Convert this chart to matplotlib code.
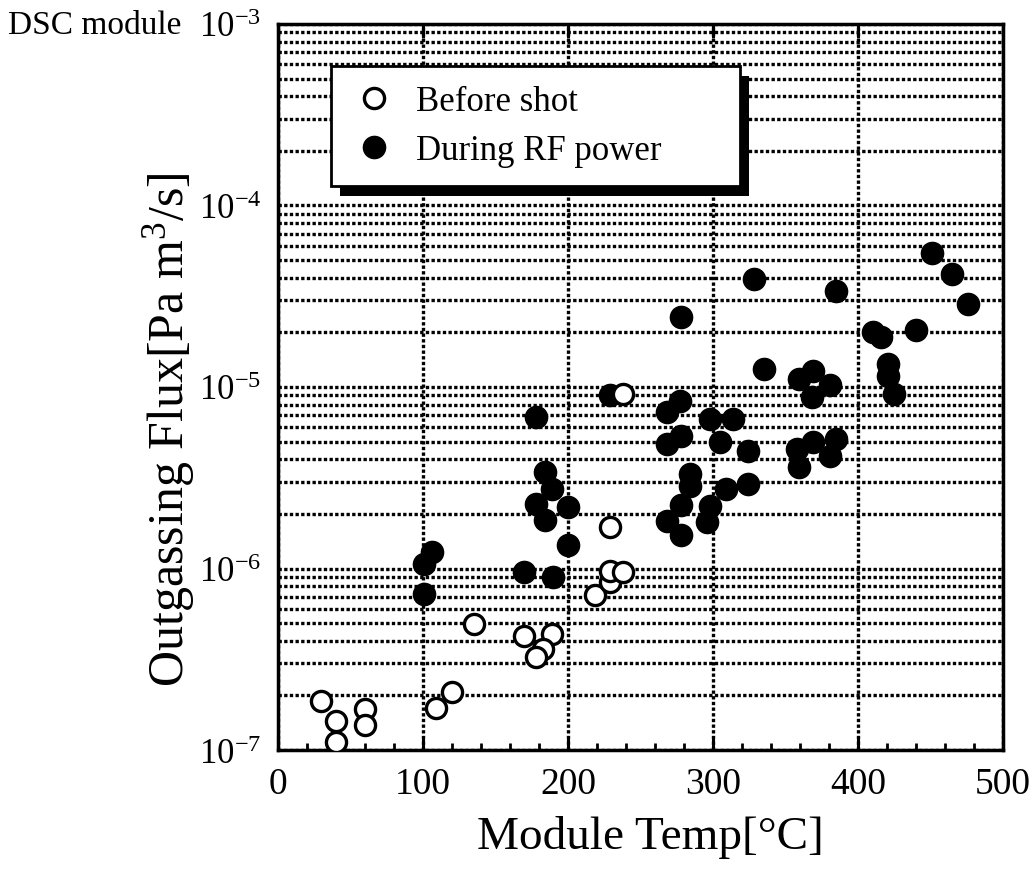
import matplotlib
matplotlib.use('Agg')
import matplotlib.pyplot as plt
from matplotlib.patches import Rectangle
from matplotlib.ticker import MultipleLocator, LogLocator, NullFormatter

plt.rcParams['font.family'] = ['Liberation Serif', 'DejaVu Serif']
plt.rcParams['mathtext.fontset'] = 'custom'
plt.rcParams['mathtext.rm'] = 'Liberation Serif'
plt.rcParams['mathtext.it'] = 'Liberation Serif:italic'

# Before shot (open circles): module temp [C], outgassing flux [Pa m3/s]
antes_temp = [30, 40, 40, 60, 60, 109, 120, 135, 170, 189, 183, 178,
              219, 229, 229, 238, 229, 238]
antes_flujo = [1.87e-7, 1.45e-7, 1.11e-7, 1.68e-7, 1.37e-7, 1.70e-7, 2.08e-7,
               4.94e-7, 4.23e-7, 4.35e-7, 3.60e-7, 3.24e-7, 7.14e-7, 8.43e-7,
               9.64e-7, 9.58e-7, 1.70e-6, 9.14e-6]

# During RF power (filled circles)
rf_temp = [101, 106, 101, 178, 184, 189, 178, 184, 200, 200, 170, 190,
           229, 277, 268, 298, 314, 278, 268, 305, 324, 284, 284, 309,
           324, 278, 268, 278, 298, 296, 278, 328, 335, 359, 369, 381,
           368, 358, 369, 385, 381, 359, 385, 410, 416, 440, 421, 421,
           425, 451, 465, 476]
rf_flujo = [1.06e-6, 1.23e-6, 7.24e-7, 6.81e-6, 3.42e-6, 2.74e-6, 2.27e-6,
            1.86e-6, 2.17e-6, 1.34e-6, 9.53e-7, 8.94e-7, 9.03e-6, 8.41e-6,
            7.26e-6, 6.67e-6, 6.67e-6, 5.39e-6, 4.85e-6, 4.96e-6, 4.46e-6,
            3.32e-6, 2.86e-6, 2.74e-6, 2.92e-6, 2.24e-6, 1.83e-6, 1.52e-6,
            2.22e-6, 1.80e-6, 2.42e-5, 3.94e-5, 1.26e-5, 1.11e-5, 1.23e-5,
            1.02e-5, 8.77e-6, 4.55e-6, 4.95e-6, 5.17e-6, 4.18e-6, 3.61e-6,
            3.37e-5, 2.00e-5, 1.88e-5, 2.06e-5, 1.34e-5, 1.15e-5, 9.14e-6,
            5.47e-5, 4.20e-5, 2.87e-5]

x_ticks = [0, 100, 200, 300, 400, 500]
y_ticks = [1e-7, 1e-6, 1e-5, 1e-4, 1e-3]
y_labels = [r'$\mathregular{10^{-7}}$', r'$\mathregular{10^{-6}}$',
            r'$\mathregular{10^{-5}}$', r'$\mathregular{10^{-4}}$',
            r'$\mathregular{10^{-3}}$']

fig = plt.figure(figsize=(10.33, 8.79), dpi=100)
ax = fig.add_axes([0.269, 0.1456, 0.702, 0.826])

ax.plot(rf_temp, rf_flujo, 'o', ms=16, mfc='black', mec='black',
        ls='none', label='During RF power', zorder=3)
ax.plot(antes_temp, antes_flujo, 'o', ms=14.5, mfc='white', mec='black',
        mew=2.4, ls='none', label='Before shot', zorder=4)

ax.set_yscale('log')
ax.set_xlim(0, 500)
ax.set_ylim(1e-7, 1e-3)
ax.set_xticks(x_ticks)
ax.set_xticklabels([str(t) for t in x_ticks])
ax.xaxis.set_minor_locator(MultipleLocator(20))
ax.set_yticks(y_ticks)
ax.set_yticklabels(y_labels)
ax.yaxis.set_minor_locator(LogLocator(base=10, subs=range(2, 10), numticks=20))
ax.yaxis.set_minor_formatter(NullFormatter())

# rejilla punteada gruesa
ax.grid(which='both', axis='y', color='black', ls=(0, (1, 0.7)), lw=2.4)
ax.grid(which='major', axis='x', color='black', ls=(0, (1, 0.7)), lw=2.4)
ax.set_axisbelow(True)

for s in ax.spines.values():
    s.set_linewidth(2.5)
ax.tick_params(axis='x', which='major', direction='in', length=10, width=2.2,
               labelsize=27, pad=12, top=True)
ax.tick_params(axis='x', which='minor', direction='in', length=5, width=2,
               top=False)
ax.tick_params(axis='y', which='both', direction='in', length=0,
               labelsize=25, pad=12)

ax.set_xlabel('Module Temp[°C]', fontsize=34)
ax.xaxis.set_label_coords(0.513, -0.09)
ax.set_ylabel(r'Outgassing Flux[Pa m$^{3}$/s]', fontsize=36)
ax.yaxis.set_label_coords(-0.112, 0.442)

fig.text(0.008, 0.971, 'DSC module', fontsize=24, va='center', ha='left')

handles, labels = ax.get_legend_handles_labels()
leg = ax.legend(handles[::-1], labels[::-1], loc='upper left',
                bbox_to_anchor=(0.073, 0.942, 0.564, 0), mode='expand',
                fontsize=25, frameon=True,
                fancybox=False, framealpha=1, edgecolor='black',
                borderpad=0.55, handletextpad=0.5, labelspacing=0.45,
                borderaxespad=0, handlelength=1.4)
leg.get_frame().set_linewidth(2)
leg.set_zorder(10)

# sombra negra del recuadro de la leyenda
fig.canvas.draw()
bb = leg.get_window_extent()
inv = ax.transAxes.inverted()
(x0, y0) = inv.transform((bb.x0 + 9, bb.y0 - 10))
(x1, y1) = inv.transform((bb.x1 + 9, bb.y1 - 10))
ax.add_patch(Rectangle((x0, y0), x1 - x0, y1 - y0, transform=ax.transAxes,
                       facecolor='black', edgecolor='none', zorder=9,
                       clip_on=False))

fig.savefig('out.png', dpi=100)
